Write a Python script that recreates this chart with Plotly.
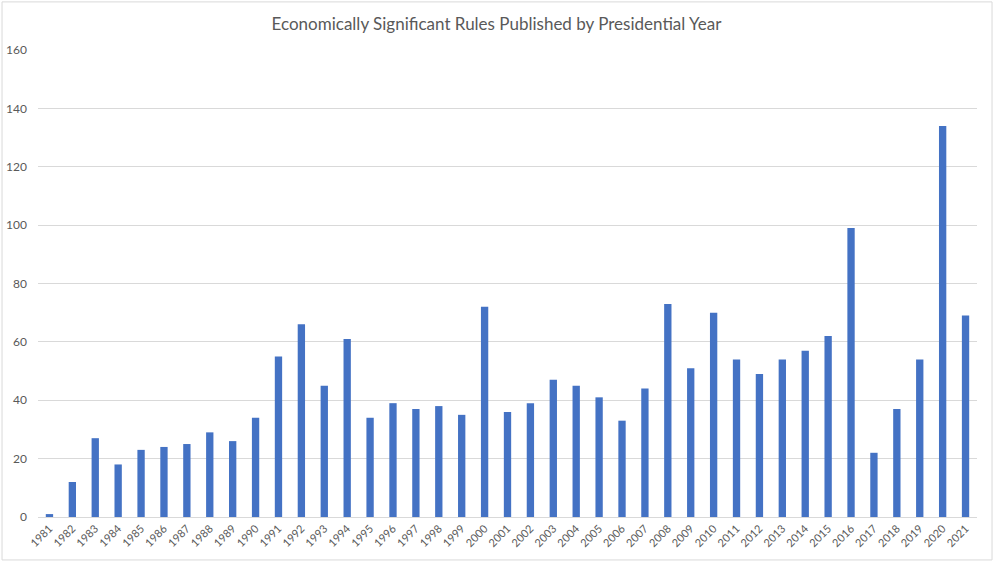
import plotly.graph_objects as go

years = [str(y) for y in range(1981, 2022)]
rules = [1, 12, 27, 18, 23, 24, 25, 29, 26, 34, 55, 66, 45, 61, 34, 39, 37, 38, 35, 72,
         36, 39, 47, 45, 41, 33, 44, 73, 51, 70, 54, 49, 54, 57, 62, 99, 22, 37, 54, 134, 69]
y_ticks = [0, 20, 40, 60, 80, 100, 120, 140, 160]

fig = go.Figure()
fig.add_trace(go.Bar(x=years, y=rules, marker=dict(color="#4472C4", line=dict(width=0)),
                     width=0.32))

fig.update_layout(
    width=999, height=568,
    margin=dict(l=38, r=22, t=50, b=51, autoexpand=False),
    paper_bgcolor="white", plot_bgcolor="white",
    font=dict(family="Lato, sans-serif", color="#595959"),
    title=dict(text="Economically Significant Rules Published by Presidential Year",
               x=0.497, xanchor="center", y=0.958, yanchor="middle",
               font=dict(size=17, color="#595959")),
    showlegend=False,
    xaxis=dict(type="category", tickangle=-45, tickfont=dict(size=11, color="#595959"),
               showgrid=False, showline=True, linecolor="#D9D9D9", linewidth=1,
               ticks="", ticklen=0),
    yaxis=dict(range=[0, 160], tickvals=y_ticks, tickfont=dict(size=12, color="#595959"),
               showgrid=True, gridcolor="#D9D9D9", gridwidth=1, zeroline=False,
               ticks="", ticklabelstandoff=10),
    shapes=[dict(type="rect", xref="paper", yref="paper", x0=-0.0383, x1=1.016, y0=-0.092, y1=1.103,
                 line=dict(color="#D9D9D9", width=1), fillcolor="rgba(0,0,0,0)")],
)

fig.write_html("out.html", config={"displayModeBar": False},
               post_script="document.body.style.margin='0';")
